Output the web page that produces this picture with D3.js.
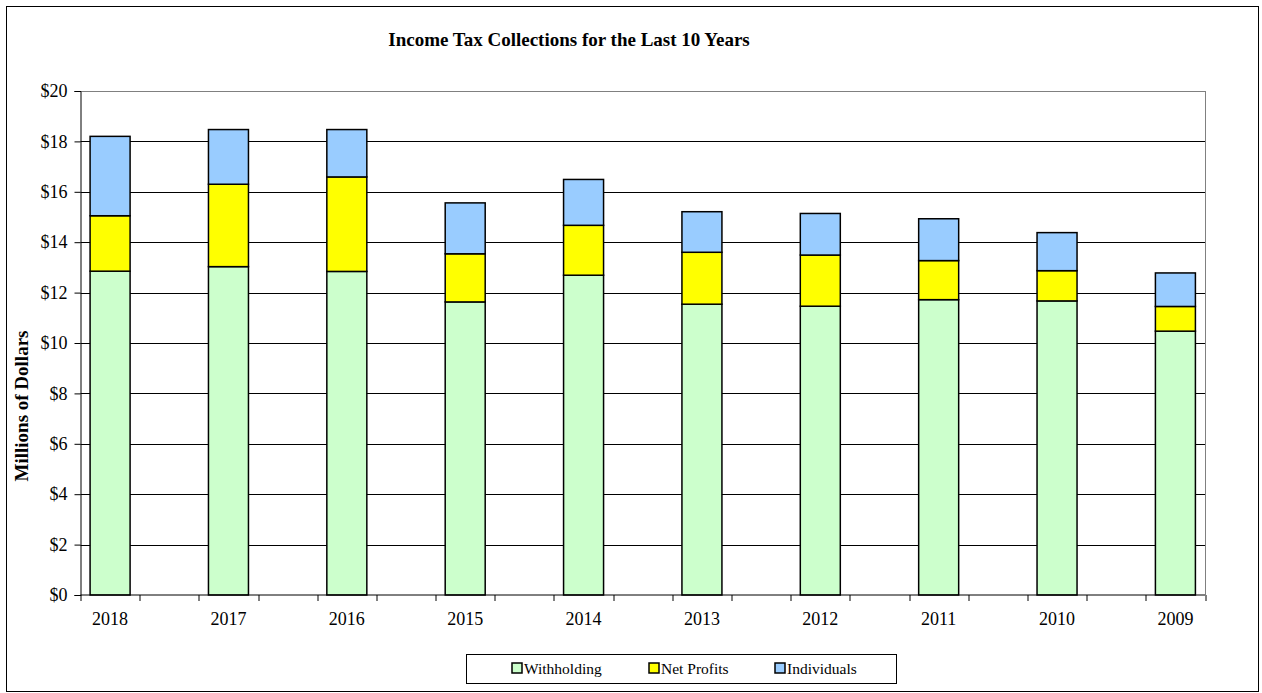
<!DOCTYPE html>
<html>
<head>
<meta charset="utf-8">
<script src="https://cdn.jsdelivr.net/npm/d3@7"></script>
<style>
  body { margin: 0; background: #fff; }
</style>
</head>
<body>
<div id="chart"></div>
<script>
// data (millions of dollars)
var years = ["2018", "2017", "2016", "2015", "2014", "2013", "2012", "2011", "2010", "2009"];
var withholding = [12.85, 13.03, 12.84, 11.63, 12.69, 11.54, 11.46, 11.72, 11.67, 10.47];
var netProfits = [2.20, 3.27, 3.75, 1.91, 1.98, 2.06, 2.03, 1.55, 1.20, 0.98];
var individuals = [3.15, 2.17, 1.88, 2.02, 1.82, 1.61, 1.65, 1.66, 1.51, 1.33];
var seriesNames = ["Withholding", "Net Profits", "Individuals"];
var seriesColors = ["#ccffcc", "#ffff00", "#99ccff"];
var yTicks = [0, 2, 4, 6, 8, 10, 12, 14, 16, 18, 20];

var FONT = "'Liberation Serif', 'Times New Roman', serif";
var W = 1262, H = 693;
var margin = {top: 91, right: 57, bottom: 98, left: 80.5};
var width = W - margin.left - margin.right,
    height = H - margin.top - margin.bottom;

var svg = d3.select("#chart").append("svg")
    .attr("width", W)
    .attr("height", H)
    .style("font-family", FONT);

// outer chart border
svg.append("rect")
    .attr("x", 6.5).attr("y", 6.5)
    .attr("width", 1252).attr("height", 685)
    .attr("fill", "#fff")
    .attr("stroke", "#000")
    .attr("stroke-width", 1);

svg.append("text")
    .attr("x", 569).attr("y", 46)
    .attr("text-anchor", "middle")
    .style("font-family", FONT)
    .style("font-size", "19px")
    .style("font-weight", "bold")
    .text("Income Tax Collections for the Last 10 Years");

var g = svg.append("g")
    .attr("transform", "translate(" + margin.left + "," + margin.top + ")");

// Excel-style: one empty slot between each year
var slots = [];
years.forEach(function(y, i) {
    slots.push(y);
    if (i < years.length - 1) slots.push("gap" + i);
});

var x = d3.scaleBand().domain(slots).range([0, width]);
var y = d3.scaleLinear().domain([0, 20]).range([height, 0]);

// gridlines
g.selectAll(".grid")
    .data(yTicks.slice(1))
    .enter().append("line")
    .attr("class", "grid")
    .attr("x1", 0).attr("x2", width)
    .attr("y1", function(d) { return Math.round(y(d)) + 0.5; })
    .attr("y2", function(d) { return Math.round(y(d)) + 0.5; })
    .attr("stroke", function(d) { return d === 20 ? "#808080" : "#000"; })
    .attr("stroke-width", 1);

// right edge of plot area
g.append("line")
    .attr("x1", width + 0.5).attr("x2", width + 0.5)
    .attr("y1", y(20)).attr("y2", height)
    .attr("stroke", "#808080");

// stacked bars
var rows = years.map(function(yr, i) {
    return {year: yr, Withholding: withholding[i], "Net Profits": netProfits[i], Individuals: individuals[i]};
});
var stacked = d3.stack().keys(seriesNames)(rows);
var barW = 40;

g.selectAll(".series")
    .data(stacked)
    .enter().append("g")
    .attr("class", "series")
    .attr("fill", function(d, i) { return seriesColors[i]; })
    .selectAll("rect")
    .data(function(d) { return d; })
    .enter().append("rect")
    .attr("x", function(d) { return x(d.data.year) + x.bandwidth() / 2 - barW / 2; })
    .attr("y", function(d) { return y(d[1]); })
    .attr("width", barW)
    .attr("height", function(d) { return y(d[0]) - y(d[1]); })
    .attr("stroke", "#000")
    .attr("stroke-width", 1.5);

// y axis
var yAxis = g.append("g")
    .call(d3.axisLeft(y).tickValues(yTicks).tickSize(6).tickPadding(7)
        .tickFormat(function(d) { return "$" + d; }));
yAxis.attr("font-family", null).attr("font-size", null);
yAxis.select(".domain").attr("stroke", "#000");
yAxis.selectAll("text")
    .style("font-family", FONT)
    .style("font-size", "18px")
    .attr("fill", "#000");

// x axis: ticks on slot boundaries
var xAxis = g.append("g").attr("transform", "translate(0," + height + ")");
xAxis.append("line")
    .attr("x1", 0).attr("x2", width)
    .attr("stroke", "#000");
xAxis.selectAll(".tick")
    .data(d3.range(slots.length + 1))
    .enter().append("line")
    .attr("x1", function(i) { return Math.round(i * x.step()) + 0.5; })
    .attr("x2", function(i) { return Math.round(i * x.step()) + 0.5; })
    .attr("y1", 0).attr("y2", 6)
    .attr("stroke", "#000");
xAxis.selectAll(".lbl")
    .data(years)
    .enter().append("text")
    .attr("x", function(d) { return x(d) + x.bandwidth() / 2; })
    .attr("y", 30)
    .attr("text-anchor", "middle")
    .style("font-family", FONT)
    .style("font-size", "18px")
    .text(function(d) { return d; });

// y axis title
svg.append("text")
    .attr("transform", "translate(28," + 406 + ") rotate(-90)")
    .attr("text-anchor", "middle")
    .style("font-family", FONT)
    .style("font-size", "19px")
    .style("font-weight", "bold")
    .text("Millions of Dollars");

// legend
var legend = svg.append("g");
legend.append("rect")
    .attr("x", 466.5).attr("y", 654.5)
    .attr("width", 430).attr("height", 29)
    .attr("fill", "#fff")
    .attr("stroke", "#000");
var legendX = [512, 649, 775];
var item = legend.selectAll(".item")
    .data(seriesNames)
    .enter().append("g")
    .attr("transform", function(d, i) { return "translate(" + legendX[i] + ",663)"; });
item.append("rect")
    .attr("width", 10).attr("height", 10)
    .attr("fill", function(d, i) { return seriesColors[i]; })
    .attr("stroke", "#000")
    .attr("stroke-width", 1.5);
item.append("text")
    .attr("x", 12).attr("y", 11)
    .style("font-family", FONT)
    .style("font-size", "15.5px")
    .text(function(d) { return d; });
</script>
</body>
</html>
